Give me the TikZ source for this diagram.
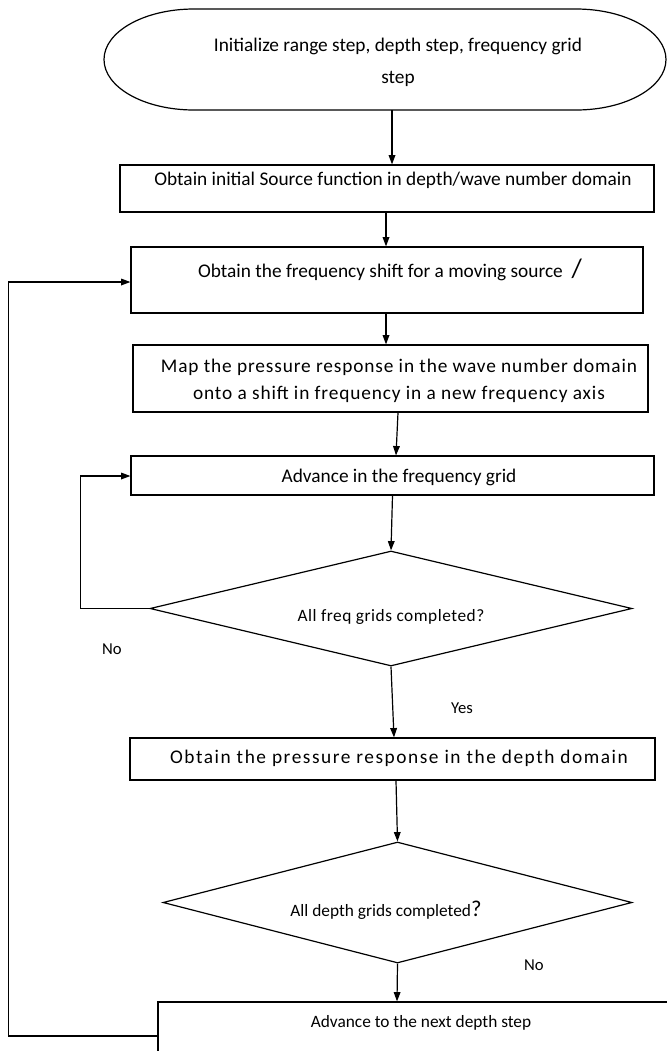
\documentclass[tikz,border=0pt]{standalone}
\usepackage{fontspec}
\setmainfont{Carlito}
\usetikzlibrary{shapes.geometric,arrows.meta,calc}
\def\p{0.75pt}
\begin{document}
\begin{tikzpicture}[x=0.75pt,y=-0.75pt,
  every node/.style={font=\fontsize{14.5}{20}\selectfont},
  box/.style={draw, rectangle, line width=0.9pt, inner sep=0pt},
  dec/.style={draw, diamond, line width=0.9pt, inner sep=0pt},
  txt/.style={inner sep=0pt, align=center},
  small/.style={font=\fontsize{13}{16}\selectfont},
  lbl/.style={inner sep=0pt, font=\fontsize{12.5}{15}\selectfont},
  arr/.style={line width=0.9pt, -{Triangle[length=7pt,width=5pt]}},
  ln/.style={line width=0.9pt}]

\useasboundingbox (0,0) rectangle (667,1051);
\fill[white] (0,0) rectangle (667,1051);
\clip (0,0) rectangle (667,1051);

% terminator
\node[inner sep=0pt, minimum width=562*\p, minimum height=101*\p] (start) at (385,59.5) {};
\draw[ln] (194,9) -- (576,9) arc (-90:90:90 and 50.5) -- (194,110) arc (90:270:90 and 50.5) -- cycle;
\node[txt, font=\fontsize{14.5}{24}\selectfont] (startlbl) at (398,62) {Initialize range step, depth step, frequency grid\\step};

% boxes
\node[box, minimum width=534*\p, minimum height=47*\p] (box1) at (387,188.5) {};
\node[txt] (box1lbl) at (393,180) {Obtain initial Source function in depth/wave number domain};

\node[box, minimum width=512*\p, minimum height=66*\p] (box2) at (387,280) {};
\node[txt] (box2lbl) at (390,270) {Obtain the frequency shift for a moving source\ \ {\fontsize{20}{20}\selectfont /}};

\node[box, minimum width=515*\p, minimum height=67*\p] (box3) at (390.5,378.5) {};
\node[txt, font=\fontsize{14.5}{20.5}\selectfont\addfontfeatures{LetterSpace=4.5}] (box3lbl) at (399,381) {Map the pressure response in the wave number domain\\onto a shift in frequency in a new frequency axis};

\node[box, minimum width=523*\p, minimum height=39*\p] (box4) at (392.5,475.5) {};
\node[txt] (box4lbl) at (399,477) {Advance in the frequency grid};

\node[dec, minimum width=482*\p, minimum height=115*\p] (d1) at (391,608.5) {};
\node[txt, font=\fontsize{13}{16}\selectfont\addfontfeatures{LetterSpace=3}] (d1lbl) at (391,617) {All freq grids completed?};

\node[box, minimum width=525*\p, minimum height=42*\p] (box5) at (392.5,759) {};
\node[txt, font=\fontsize{14.5}{20}\selectfont\addfontfeatures{LetterSpace=8}] (box5lbl) at (399,758) {Obtain the pressure response in the depth domain};

\node[dec, minimum width=469*\p, minimum height=121*\p] (d2) at (397.5,902.5) {};
\node[txt, small] (d2lbl) at (386,910) {All depth grids completed{\fontsize{17}{17}\selectfont ?}};

\node[box, minimum width=526*\p, minimum height=68*\p] (box6) at (421,1036) {};
\node[txt, small] (box6lbl) at (421,1023) {Advance to the next depth step};

% labels
\node[lbl] (no1) at (112,649) {No};
\node[lbl] (yes1) at (462,708) {Yes};
\node[lbl] (no2) at (534,965) {No};

% connectors
\draw[arr] ($(start.south)+(7,0)$) -- ($(box1.north)+(5,0)$);
\draw[arr] ($(box1.south)+(-1,0)$) -- ($(box2.north)+(-1,0)$);
\draw[arr] ($(box2.south)+(-1,0)$) -- ($(box3.north)+(-4.5,0)$);
\draw[arr] ($(box3.south)+(7.5,0)$) -- ($(box4.north)+(3.5,0)$);
\draw[arr] (box4.south) -- (d1.north);
\draw[arr] (d1.west) -- ++(-69,0) |- ($(box4.west)+(0,0.5)$);
\draw[arr] (d1.south) -- ($(box5.north)+(1.5,0)$);
\draw[arr] ($(box5.south)+(3.5,0)$) -- (d2.north);
\draw[arr] (d2.south) -- ($(box6.north)+(-24,0)$);
\draw[arr] (box6.west) -- ++(-149,0) |- ($(box2.west)+(0,2)$);
\end{tikzpicture}
\end{document}
